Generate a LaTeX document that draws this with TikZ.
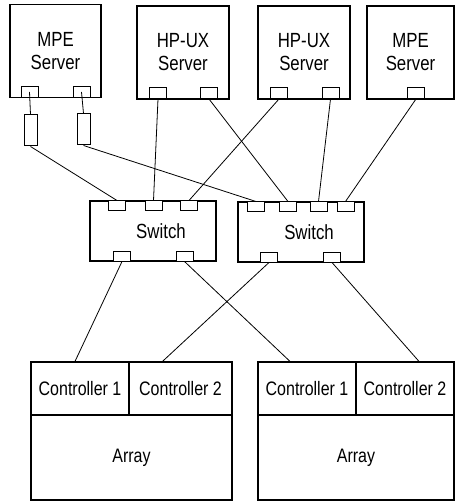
\documentclass[tikz,border=0pt]{standalone}
\usepackage{fontspec}
\setmainfont{Liberation Sans}[FakeStretch=0.82]
\usepackage{tikz}
\usetikzlibrary{positioning}

\begin{document}
\begin{tikzpicture}[
    x=1pt, y=-1pt,
    server/.style={rectangle, draw, line width=1.2pt, align=center, inner sep=0pt, font=\fontsize{20.5}{23}\selectfont},
    port/.style={rectangle, draw, line width=1pt, fill=white, minimum width=17pt, minimum height=11pt, inner sep=0pt},
    adapter/.style={rectangle, draw, line width=1pt, minimum width=13pt, minimum height=31pt, inner sep=0pt},
    switchbox/.style={rectangle, draw, line width=1.2pt, minimum width=126pt, minimum height=60pt, inner sep=0pt, font=\fontsize{20.5}{23}\selectfont},
    cell/.style={rectangle, draw, line width=1.2pt, inner sep=0pt, font=\fontsize{19.5}{22}\selectfont},
    link/.style={line width=0.8pt}
]
    \useasboundingbox (0,0) rectangle (455,502);

    % servers
    \node[server, minimum width=91pt, minimum height=93pt] (mpeA) at (55.5,51) {MPE\\Server};
    \node[server, minimum width=92pt, minimum height=93pt] (hpA) at (183,52.5) {HP-UX\\Server};
    \node[server, minimum width=92pt, minimum height=93pt] (hpB) at (304,52.5) {HP-UX\\Server};
    \node[server, minimum width=87pt, minimum height=93pt] (mpeB) at (410.5,52.5) {MPE\\Server};

    \node[port] (mpeA_p1) at (29.5,92) {};
    \node[port] (mpeA_p2) at (81.5,92) {};
    \node[port] (hpA_p1) at (158,93) {};
    \node[port] (hpA_p2) at (209,93) {};
    \node[port] (hpB_p1) at (279,93) {};
    \node[port] (hpB_p2) at (330.5,93) {};
    \node[port] (mpeB_p1) at (416,93) {};

    \node[adapter] (adA) at (30.5,130.5) {};
    \node[adapter] (adB) at (83.5,129.5) {};

    % switches
    \node[switchbox] (swA) at (153,231) {\hspace*{16pt}Switch};
    \node[switchbox] (swB) at (301,232) {\hspace*{16pt}Switch};

    \node[port, minimum height=10pt] (swA_t1) at (117,206) {};
    \node[port, minimum height=10pt] (swA_t2) at (153.5,206) {};
    \node[port, minimum height=10pt] (swA_t3) at (189,206) {};
    \node[port, minimum height=10pt] (swA_b1) at (122,256) {};
    \node[port, minimum height=10pt] (swA_b2) at (184.5,256) {};

    \node[port, minimum height=10pt] (swB_t1) at (256,207) {};
    \node[port, minimum height=10pt] (swB_t2) at (288,207) {};
    \node[port, minimum height=10pt] (swB_t3) at (318.5,207) {};
    \node[port, minimum height=10pt] (swB_t4) at (345.5,207) {};
    \node[port, minimum height=10pt] (swB_b1) at (269,257) {};
    \node[port, minimum height=10pt] (swB_b2) at (332,257) {};

    % arrays
    \node[cell, minimum width=98pt, minimum height=53pt] (arrA_c1) at (80,388.5) {Controller 1};
    \node[cell, minimum width=103pt, minimum height=53pt] (arrA_c2) at (180.5,388.5) {Controller 2};
    \node[cell, minimum width=201pt, minimum height=85pt] (arrA) at (131.5,457.5) {Array};

    \node[cell, minimum width=98pt, minimum height=53pt] (arrB_c1) at (307,388.5) {Controller 1};
    \node[cell, minimum width=98pt, minimum height=53pt] (arrB_c2) at (405,388.5) {Controller 2};
    \node[cell, minimum width=196pt, minimum height=85pt] (arrB) at (356,457.5) {Array};

    % links
    \draw[link] (mpeA_p1.center) -- (adA.north);
    \draw[link] (mpeA_p2.center) -- (adB.north);
    \draw[link] (adA.south) -- (swA_t1.north);
    \draw[link] (adB.south) -- (swB_t1.north);
    \draw[link] (hpA_p1.south) -- (swA_t2.north);
    \draw[link] (hpA_p2.south) -- (swB_t2.north);
    \draw[link] (hpB_p1.south) -- (swA_t3.north);
    \draw[link] (hpB_p2.south) -- (swB_t3.north);
    \draw[link] (mpeB_p1.south) -- (swB_t4.north);

    \draw[link] (swA_b1.south) -- ([xshift=-5pt]arrA_c1.north);
    \draw[link] (swA_b2.south) -- ([xshift=-17pt]arrB_c1.north);
    \draw[link] (swB_b1.south) -- ([xshift=-18pt]arrA_c2.north);
    \draw[link] (swB_b2.south) -- ([xshift=14pt]arrB_c2.north);
\end{tikzpicture}
\end{document}
